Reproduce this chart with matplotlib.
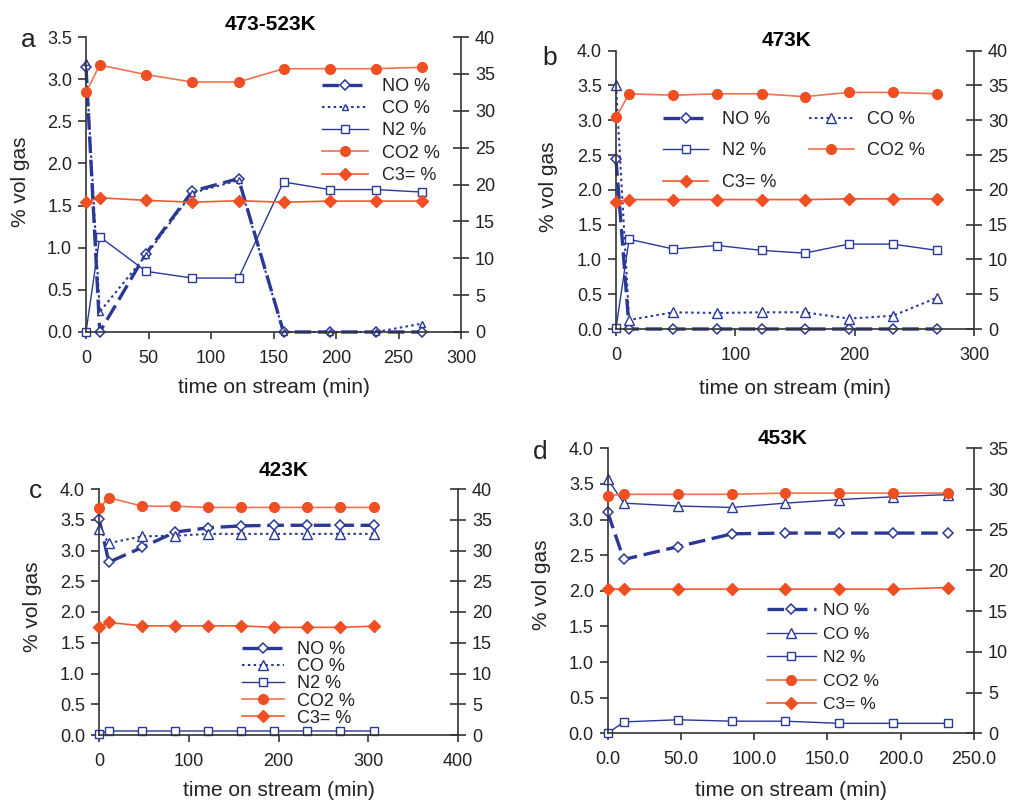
import matplotlib
matplotlib.use('Agg')
import matplotlib.pyplot as plt

plt.rcParams['font.family'] = ['Liberation Sans', 'DejaVu Sans']

W, H = 1013, 801

# ---------------- data ----------------
series_names = ['NO %', 'CO %', 'N2 %', 'CO2 %', 'C3= %']

time_a = [0, 11, 48, 85, 122, 158, 195, 232, 269]
no_a = [3.15, 0.0, 0.93, 1.67, 1.82, 0.0, 0.0, 0.0, 0.0]
co_a = [3.20, 0.24, 0.91, 1.65, 1.80, 0.0, 0.0, 0.0, 0.10]
n2_a = [0.0, 1.13, 0.72, 0.64, 0.64, 1.78, 1.69, 1.69, 1.66]
co2_a = [32.5, 36.2, 34.9, 33.9, 33.9, 35.7, 35.7, 35.7, 35.9]
c3_a = [17.6, 18.2, 17.85, 17.6, 17.8, 17.6, 17.75, 17.75, 17.75]

time_b = [0, 11, 48, 85, 122, 158, 195, 232, 269]
no_b = [2.44, 0.0, 0.0, 0.0, 0.0, 0.0, 0.0, 0.0, 0.0]
co_b = [3.50, 0.13, 0.24, 0.23, 0.24, 0.24, 0.15, 0.19, 0.45]
n2_b = [0.01, 1.29, 1.15, 1.20, 1.13, 1.09, 1.22, 1.22, 1.13]
co2_b = [30.4, 33.8, 33.6, 33.8, 33.8, 33.4, 34.0, 34.0, 33.8]
c3_b = [18.3, 18.6, 18.6, 18.6, 18.6, 18.6, 18.7, 18.7, 18.7]

time_c = [0, 11, 48, 85, 122, 158, 195, 232, 269, 306]
no_c = [3.52, 2.81, 3.05, 3.30, 3.37, 3.40, 3.41, 3.41, 3.41, 3.41]
co_c = [3.35, 3.12, 3.23, 3.24, 3.27, 3.27, 3.27, 3.27, 3.27, 3.27]
n2_c = [0.02, 0.065, 0.065, 0.065, 0.065, 0.065, 0.065, 0.065, 0.065, 0.065]
co2_c = [36.85, 38.6, 37.2, 37.2, 37.0, 37.0, 37.0, 37.0, 37.0, 37.0]
c3_c = [17.5, 18.3, 17.75, 17.75, 17.75, 17.75, 17.5, 17.5, 17.5, 17.7]

time_d = [0, 11, 48, 85, 121, 158, 195, 232]
no_d = [3.10, 2.44, 2.62, 2.80, 2.81, 2.81, 2.81, 2.81]
co_d = [3.57, 3.23, 3.19, 3.17, 3.23, 3.28, 3.32, 3.35]
n2_d = [0.0, 0.16, 0.19, 0.17, 0.17, 0.14, 0.14, 0.14]
co2_d = [29.2, 29.35, 29.35, 29.35, 29.5, 29.5, 29.5, 29.5]
c3_d = [17.7, 17.7, 17.7, 17.7, 17.7, 17.7, 17.7, 17.9]

titles = ['473-523K', '473K', '423K', '453K']
panel_letters = ['a', 'b', 'c', 'd']
xticks_a = [0, 50, 100, 150, 200, 250, 300]
xticks_b = [0, 100, 200, 300]
xticks_c = [0, 100, 200, 300, 400]
xticks_d = [0, 50, 100, 150, 200, 250]
xtick_labels_d = ['0.0', '50.0', '100.0', '150.0', '200.0', '250.0']

# ---------------- style ----------------
BLUE = '#2a3896'
ORANGE = '#f04e23'
ORANGE_LINE_CO2 = '#f3714f'
ORANGE_LINE_C3 = '#f15a33'
SPINE = '#333333'
TXT = '#222222'
TICK_FS = 13

fig = plt.figure(figsize=(W / 100, H / 100), dpi=100)


def px_rect(l, t, r, b):
    return [l / W, 1 - b / H, (r - l) / W, (b - t) / H]


def make_panel(rect, t, no, co, n2, co2, c3, ylim_l, yticks_l, ylim_r, yticks_r,
               xlim, xticks, xticklabels, title, title_px, letter, letter_px,
               ylab_px, xlab_py, co_solid, co_ms, leg):
    l, tp, r, b = rect
    ax = fig.add_axes(px_rect(*rect))
    ax2 = ax.twinx()
    kw = dict(clip_on=False)
    h1, = ax.plot(t, no, color=BLUE, lw=2.4, ls=(0, (5, 2)), marker='D', ms=5.6,
                  mfc='white', mec=BLUE, mew=1.1, label=series_names[0], **kw)
    h2, = ax.plot(t, co, color=BLUE, lw=(1.0 if co_solid else 1.5),
                  ls=('-' if co_solid else (0, (1.2, 1.6))), marker='^', ms=co_ms,
                  mfc='white', mec=BLUE, mew=1.0, label=series_names[1], **kw)
    h3, = ax.plot(t, n2, color=BLUE, lw=1.0, marker='s', ms=6.2, mfc='white',
                  mec=BLUE, mew=1.0, label=series_names[2], **kw)
    h4, = ax2.plot(t, co2, color=ORANGE_LINE_CO2, lw=1.2, marker='o', ms=7,
                   mfc=ORANGE, mec=ORANGE, label=series_names[3], **kw)
    h5, = ax2.plot(t, c3, color=ORANGE_LINE_C3, lw=1.2, marker='D', ms=5.8,
                   mfc=ORANGE, mec=ORANGE, label=series_names[4], **kw)

    ax.set_xlim(*xlim)
    ax.set_ylim(*ylim_l)
    ax2.set_ylim(*ylim_r)
    ax.set_xticks(xticks)
    ax.set_xticklabels(xticklabels)
    ax.set_yticks(yticks_l)
    ax.set_yticklabels(['%.1f' % v for v in yticks_l])
    ax2.set_yticks(yticks_r)
    ax2.set_yticklabels(['%d' % v for v in yticks_r])

    for s in ['top', 'right']:
        ax.spines[s].set_visible(False)
    for s in ['top', 'left', 'bottom']:
        ax2.spines[s].set_visible(False)
    for s in ['left', 'bottom']:
        ax.spines[s].set_color(SPINE)
        ax.spines[s].set_linewidth(1.2)
    ax2.spines['right'].set_color(SPINE)
    ax2.spines['right'].set_linewidth(1.2)

    ax.tick_params(axis='y', direction='out', length=6, width=1.2, labelsize=TICK_FS,
                   pad=4, color=SPINE, labelcolor=TXT)
    ax.tick_params(axis='x', direction='out', length=5, width=1.2, labelsize=TICK_FS,
                   pad=8, color=SPINE, labelcolor=TXT)
    ax2.tick_params(axis='y', direction='inout', length=12, width=1.2, labelsize=TICK_FS,
                    pad=4, color=SPINE, labelcolor=TXT)

    ax.set_xlabel('time on stream (min)', fontsize=15, color=TXT, va='center')
    ax.xaxis.set_label_coords(((l + r) / 2) / W, 1 - xlab_py / H, transform=fig.transFigure)
    ax.set_ylabel('% vol gas', fontsize=15, color=TXT, va='center')
    ax.yaxis.set_label_coords(ylab_px[0] / W, 1 - ylab_px[1] / H, transform=fig.transFigure)

    ax.set_title(title, fontsize=15, fontweight='bold', va='center', pad=0,
                 x=(title_px[0] - l) / (r - l), y=1 + (tp - title_px[1]) / (b - tp))
    fig.text(letter_px[0] / W, 1 - letter_px[1] / H, letter, fontsize=19,
             ha='center', va='center', color=TXT)

    handles = [h1, h2, h3, h4, h5]
    if leg.get('ncol', 1) == 2:
        handles = [h1, h3, h5, h2, h4]
    lg = ax2.legend(handles=handles, labels=[h.get_label() for h in handles],
                    loc='upper left', bbox_to_anchor=(leg['x'] / W, 1 - leg['y'] / H),
                    bbox_transform=fig.transFigure, frameon=False, borderpad=0,
                    borderaxespad=0, fontsize=leg['fs'], ncol=leg.get('ncol', 1),
                    handlelength=leg['hl'], handletextpad=leg['htp'],
                    labelspacing=leg['ls'], columnspacing=leg.get('cs', 2.0),
                    numpoints=1)
    for txt in lg.get_texts():
        txt.set_color(TXT)
    return ax, ax2


make_panel((86, 37, 461, 332), time_a, no_a, co_a, n2_a, co2_a, c3_a,
           (0, 3.5), [0, 0.5, 1.0, 1.5, 2.0, 2.5, 3.0, 3.5],
           (0, 40), [0, 5, 10, 15, 20, 25, 30, 35, 40],
           (0, 300), xticks_a, [str(v) for v in xticks_a],
           titles[0], (270, 25), panel_letters[0], (28, 40),
           (20, 182), 387, False, 5.0,
           dict(x=322, y=78, fs=13, hl=2.55, htp=0.75, ls=0.29))

make_panel((616, 50.7, 974, 329), time_b, no_b, co_b, n2_b, co2_b, c3_b,
           (0, 4.0), [0, 0.5, 1.0, 1.5, 2.0, 2.5, 3.0, 3.5, 4.0],
           (0, 40), [0, 5, 10, 15, 20, 25, 30, 35, 40],
           (0, 300), xticks_b, [str(v) for v in xticks_b],
           titles[1], (787, 40), panel_letters[1], (550, 58),
           (548, 187), 388, False, 7.0,
           dict(x=663, y=111, fs=13, hl=2.5, htp=0.75, ls=0.8, ncol=2, cs=1.8))

make_panel((99, 489, 458, 735), time_c, no_c, co_c, n2_c, co2_c, c3_c,
           (0, 4.0), [0, 0.5, 1.0, 1.5, 2.0, 2.5, 3.0, 3.5, 4.0],
           (0, 40), [0, 5, 10, 15, 20, 25, 30, 35, 40],
           (0, 400), xticks_c, [str(v) for v in xticks_c],
           titles[2], (284, 470), panel_letters[2], (36, 491),
           (32, 607), 791, False, 7.0,
           dict(x=242, y=641, fs=13, hl=2.3, htp=0.75, ls=0.01))

make_panel((607.7, 448.3, 974, 733.3), time_d, no_d, co_d, n2_d, co2_d, c3_d,
           (0, 4.0), [0, 0.5, 1.0, 1.5, 2.0, 2.5, 3.0, 3.5, 4.0],
           (0, 35), [0, 5, 10, 15, 20, 25, 30, 35],
           (0, 250), xticks_d, xtick_labels_d,
           titles[3], (783, 438), panel_letters[3], (540, 452),
           (541, 585), 791, True, 7.0,
           dict(x=767, y=603, fs=12.5, hl=2.8, htp=0.4, ls=0.48))

fig.savefig('out.png', dpi=100)
